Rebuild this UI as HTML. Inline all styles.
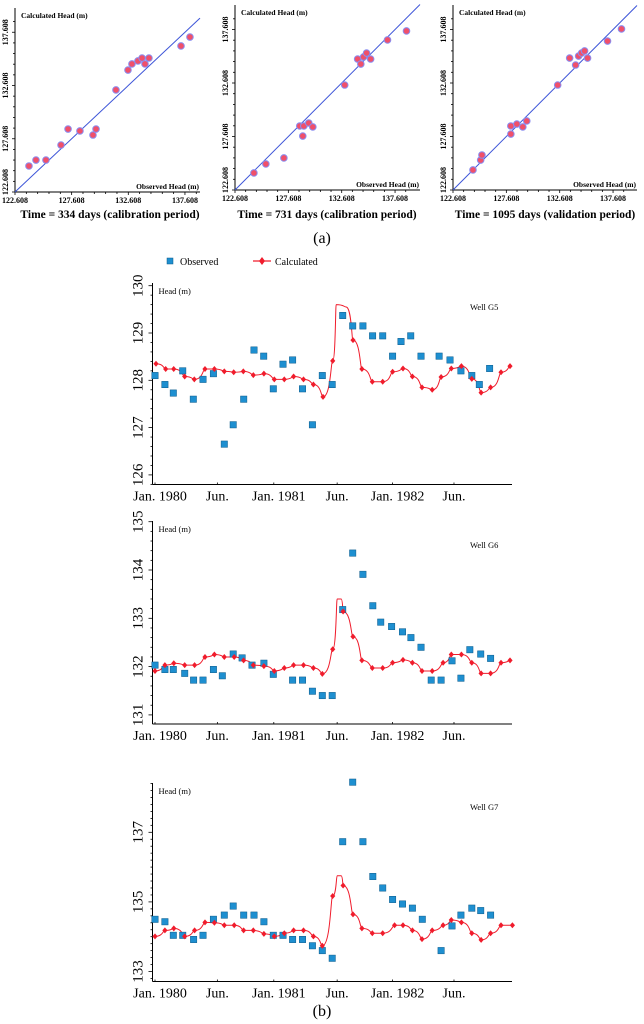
<!DOCTYPE html>
<html><head><meta charset="utf-8"><style>
html,body{margin:0;padding:0;background:#fff;}
svg{display:block;font-family:"Liberation Serif",serif;}
</style></head><body>
<svg id="fig" width="644" height="1024" viewBox="0 0 644 1024" xmlns="http://www.w3.org/2000/svg"></svg>
<script>
// ---------- Scatter data (panel a) ----------
const obs334 = [123.84,124.46,125.34,126.67,127.29,128.34,129.49,129.76,131.52,132.58,132.93,133.46,133.82,134.08,134.43,137.26,138.05];
const calc334 = [125.05,125.61,125.61,127.02,128.52,128.34,127.96,128.52,132.19,134.06,134.63,134.91,135.19,134.63,135.19,136.32,137.16];
const obs731 = [124.38,125.5,127.19,128.68,128.96,129.06,129.52,129.9,132.89,134.1,134.4,134.66,134.94,135.32,136.9,138.68];
const calc731 = [124.2,125.04,125.6,128.59,127.65,128.59,128.87,128.5,132.42,134.85,134.38,135.04,135.41,134.85,136.63,137.47];
const obs1095 = [124.48,125.2,125.32,128.03,128.03,128.59,129.15,129.52,132.42,133.54,134.1,134.38,134.66,134.94,135.22,137.09,138.4];
const calc1095 = [124.48,125.41,125.88,127.84,128.59,128.77,128.5,129.06,132.42,134.94,134.29,135.13,135.41,135.6,134.94,136.53,137.66];
const scatterTicks = ["122.608","127.608","132.608","137.608"];

// ---------- Time series data (panel b), x in months from Jan 1980 ----------
const timeTickMonths = [0,6.3,12,18.4,24,30.2];
const timeTickLabels = ["Jan. 1980","Jun.","Jan. 1981","Jun.","Jan. 1982","Jun."];

const g5ObsM = [0,1,1.85,2.8,3.87,4.85,5.9,7,7.9,8.96,10,10.98,11.95,12.93,13.9,14.9,15.9,16.9,17.9,18.96,19.97,21,21.98,23,24,24.85,25.83,26.87,28.7,29.8,30.9,32,32.76,33.8];
const g5ObsH = [128.1,127.91,127.73,128.2,127.6,128.02,128.14,126.65,127.06,127.6,128.64,128.51,127.82,128.34,128.43,127.82,127.06,128.1,127.91,129.37,129.15,129.15,128.94,128.94,128.51,128.82,128.94,128.51,128.51,128.43,128.2,128.1,127.91,128.25];
const g5CalcM = [0.1,1.08,1.89,3,3.97,5.05,6,7,7.95,8.92,9.93,11,12.05,13.06,14,15,16,16.97,17.95,20,20.9,21.95,23,24,25.05,26,26.97,28,28.9,29.93,30.95,32,32.94,33.9,34.95,35.86];
const g5CalcH = [128.35,128.24,128.24,128.08,128.02,128.24,128.24,128.19,128.17,128.19,128.11,128.14,128.02,128.02,128.08,128.02,127.91,127.65,128.41,128.85,128.24,127.97,127.97,128.18,128.25,128.08,127.85,127.8,128.07,128.25,128.3,128.03,127.74,127.85,128.17,128.3];
const g5PeakM = [18.3,19.3];
const g5PeakH = [129.6,129.55];

const g6ObsM = [0,1,1.85,3,3.9,4.85,5.9,6.8,7.9,8.8,9.8,11,11.95,13.9,14.9,15.9,16.9,17.9,18.96,19.97,21,22,22.8,23.9,25,25.85,26.87,27.9,28.9,30,30.9,31.8,32.9,33.9];
const g6ObsH = [132.03,131.94,131.94,131.86,131.72,131.72,131.94,131.81,132.26,132.18,132.03,132.07,131.84,131.72,131.72,131.49,131.4,131.4,133.18,134.35,133.91,133.26,132.92,132.83,132.72,132.6,132.4,131.72,131.72,132.12,131.76,132.35,132.26,132.17];
const g6CalcM = [0,1,1.9,3,4,5.05,6,7,8,8.95,9.93,11,12.05,13.06,14,15,16,16.9,17.95,19,20,20.9,21.95,23,24,25.05,26,26.97,28,29.1,29.93,30.95,32,32.94,33.9,34.95,35.86];
const g6CalcH = [131.91,132.03,132.07,132.03,132.03,132.2,132.25,132.2,132.2,132.13,132.03,132.01,131.91,131.97,132.03,132.03,131.97,131.85,132.36,133.14,132.62,132.13,131.97,131.97,132.08,132.14,132.08,131.91,131.91,132.08,132.25,132.25,132.08,131.86,131.86,132.08,132.13];
const g6PeakM = [18.4,18.8];
const g6PeakH = [133.4,133.4];

const g7ObsM = [0,1,1.85,2.8,3.9,4.85,5.9,7,7.9,8.96,10,11,11.95,12.93,13.9,14.9,15.9,16.9,17.9,18.96,19.97,21,22,23,24,25,26,27,28.9,30,30.9,32,32.9,33.9];
const g7ObsH = [134.5,134.43,134.04,134.04,133.92,134.04,134.5,134.62,134.88,134.62,134.62,134.43,134.04,134.04,133.92,133.92,133.74,133.6,133.38,136.73,138.44,136.73,135.73,135.4,135.07,134.94,134.82,134.5,133.6,134.31,134.62,134.82,134.75,134.62];
const g7CalcM = [0,1,1.9,3,4,5.05,6,7,8,8.95,9.93,11,12.05,13.06,14,15,16,16.9,17.95,19,20,20.9,21.95,23,24.2,25.05,26,26.97,28,29.1,29.93,30.95,32,32.94,33.9,34.95,36.1];
const g7CalcH = [134.01,134.18,134.24,134.01,134.18,134.41,134.4,134.33,134.33,134.18,134.18,134.08,134.01,134.1,134.18,134.18,134.01,133.74,135.17,135.47,134.64,134.24,134.1,134.1,134.33,134.33,134.18,133.93,134.18,134.33,134.48,134.41,134.1,133.91,134.1,134.33,134.33];
const g7PeakM = [18.4,18.8];
const g7PeakH = [135.75,135.75];

const NS = "http://www.w3.org/2000/svg";
const svg = document.getElementById("fig");
function mk(tag, attrs, parent){
  const e = document.createElementNS(NS, tag);
  for (const k in attrs) e.setAttribute(k, attrs[k]);
  (parent||svg).appendChild(e);
  return e;
}
function txt(s, attrs, parent){ const e = mk("text", attrs, parent); e.textContent = s; return e; }

// ---------- Scatter plots ----------
function scatter(name, left, bottom, right, top, sx, sy, obs, calc, caption, capX){
  const g = mk("g", {});
  
  
  const base = 122.608;
  const X = v => left + (v - base) * sx;
  const Y = v => bottom - (v - base) * sy;
  mk("line",{x1:left,y1:top,x2:left,y2:bottom,stroke:"#000","stroke-width":1},g);
  mk("line",{x1:left,y1:bottom,x2:right,y2:bottom,stroke:"#000","stroke-width":1},g);
  for (let v = 0; v <= 16; v++) {
    const big = v % 5 === 0;
    if (left + v*sx <= right) mk("line",{x1:X(base+v),y1:bottom,x2:X(base+v),y2:bottom+(big?3:2),stroke:"#000","stroke-width":0.8},g);
    if (bottom - v*sy >= top) mk("line",{x1:left,y1:Y(base+v),x2:left-(big?3:2),y2:Y(base+v),stroke:"#000","stroke-width":0.8},g);
  }
  scatterTicks.forEach((t,i)=>{
    const v = parseFloat(t);
    const xl = txt(t,{x:X(v),y:bottom+11,"font-size":8,"font-weight":"bold","text-anchor":"middle"},g);
    
    
    const yy = i === 0 ? Y(v) - 10 : Y(v);
    const yl = txt(t,{x:0,y:0,"font-size":8,"font-weight":"bold","text-anchor":"middle",transform:`translate(${left-7},${yy}) rotate(-90)`},g);
    
    
  });
  const diag = mk("line",{x1:X(base),y1:Y(base),x2:right,y2:bottom-(right-left)*sy/sx,stroke:"#3d55d8","stroke-width":1},g);
  
  
  const yt = txt("Calculated Head (m)",{x:left+6,y:top+10,"font-size":7.5,"font-weight":"bold"},g);
  
  
  const xt = txt("Observed Head (m)",{x:right-1,y:bottom-3,"font-size":7.5,"font-weight":"bold","text-anchor":"end"},g);
  
  
  obs.forEach((o,i)=>{
    const c = mk("circle",{cx:X(o),cy:Y(calc[i]),r:3.3,fill:"#f0506a",stroke:"#8a8ef0","stroke-width":1},g);
    
    
  });
  const cap = txt(caption,{x:capX,y:218,"font-size":11.5,"font-weight":"bold","text-anchor":"middle"},g);
  
  
}
scatter("scatter-334-days",15,192,200,8,11.33,10.65,obs334,calc334,"Time = 334 days (calibration period)",110);
scatter("scatter-731-days",235,190,420,5,10.67,10.7,obs731,calc731,"Time = 731 days (calibration period)",327);
scatter("scatter-1095-days",453,190,637,5,10.67,10.7,obs1095,calc1095,"Time = 1095 days (validation period)",545);
const la = txt("(a)",{x:322,y:243,"font-size":16,"text-anchor":"middle"});



// ---------- Legend ----------
const leg = mk("g",{});


const ls = mk("rect",{x:167,y:258,width:6,height:6,fill:"#1e8fd0",stroke:"#0b5a8a","stroke-width":0.5},leg);


const lt1 = txt("Observed",{x:180,y:265,"font-size":10},leg);


mk("line",{x1:253,y1:261,x2:271,y2:261,stroke:"#f01c2c","stroke-width":1.2},leg);
const ld = mk("path",{d:"M262,257 L265,261 L262,265 L259,261 Z",fill:"#f01c2c"},leg);


const lt2 = txt("Calculated",{x:275,y:265,"font-size":10},leg);



// ---------- Time series ----------
function series(name, top, bottom, refVal, refY, ppu, yTicks, minor, yMin, obsM, obsH, calM, calH, pkM, pkH, well){
  const g = mk("g",{});
  
  
  const left = 152.5, right = 512;
  const X = m => 155 + m * 9.9;
  const Y = h => refY - (h - refVal) * ppu;
  mk("line",{x1:left,y1:top,x2:left,y2:bottom,stroke:"#000","stroke-width":1},g);
  mk("line",{x1:left,y1:bottom,x2:right,y2:bottom,stroke:"#000","stroke-width":1},g);
  for (let v = yMin; Y(v) >= top - 0.5; v += minor) {
    const yy = Y(v);
    if (yy > bottom) continue;
    const major = Math.abs(v - Math.round(v)) < 1e-6 && yTicks.includes(Math.round(v));
    mk("line",{x1:left,y1:yy,x2:left-(major?4:2),y2:yy,stroke:"#000","stroke-width":0.8},g);
  }
  yTicks.forEach(v=>{
    const t = txt(String(v),{x:0,y:0,"font-size":15,"text-anchor":"middle",transform:`translate(${left-10},${Y(v)}) rotate(-90)`},g);
    
    
  });
  timeTickMonths.forEach((m,i)=>{
    mk("line",{x1:X(m),y1:bottom,x2:X(m),y2:bottom-2,stroke:"#000","stroke-width":0.8},g);
    const t = txt(timeTickLabels[i],{x:X(m)+(i%2===0?5:0),y:bottom+16,"font-size":14,"text-anchor":"middle"},g);
    
    
  });
  const ht = txt("Head (m)",{x:left+6,y:top+11,"font-size":8.5},g);
  
  
  const wt = txt(well,{x:470,y:top+27,"font-size":8.5},g);
  
  
  const pts = calM.map((m,i)=>[m,calH[i]]).concat(pkM.map((m,i)=>[m,pkH[i]])).sort((a,b)=>a[0]-b[0]);
  let d = `M${X(pts[0][0])},${Y(pts[0][1])}`;
  for (let i = 1; i < pts.length; i++) {
    const x0 = X(pts[i-1][0]), y0 = Y(pts[i-1][1]), x1 = X(pts[i][0]), y1 = Y(pts[i][1]);
    const dx = x1 - x0;
    d += ` C${x0+dx*0.8},${y0} ${x0+dx*0.8},${y1} ${x1},${y1}`;
  }
  const line = mk("path",{d:d,fill:"none",stroke:"#f01c2c","stroke-width":1},g);
  
  
  obsM.forEach((m,i)=>{
    const r = mk("rect",{x:X(m)-3.2,y:Y(obsH[i])-3.2,width:6.4,height:6.4,fill:"#1e8fd0",stroke:"#0b5a8a","stroke-width":0.5},g);
    
    
  });
  calM.forEach((m,i)=>{
    const x = X(m), y = Y(calH[i]);
    const p = mk("path",{d:`M${x},${y-3} L${x+2.6},${y} L${x},${y+3} L${x-2.6},${y} Z`,fill:"#f01c2c"},g);
    
    
  });
}
series("well-g5-chart",283,484.5,130,285.7,47.3,[126,127,128,129,130],0.2,125.6,g5ObsM,g5ObsH,g5CalcM,g5CalcH,g5PeakM,g5PeakH,"Well G5");
series("well-g6-chart",521,724,135,521.7,48.3,[131,132,133,134,135],0.2,130.8,g6ObsM,g6ObsH,g6CalcM,g6CalcH,g6PeakM,g6PeakH,"Well G6");
series("well-g7-chart",783,981.5,137,832.3,34.8,[133,135,137],0.2,132.6,g7ObsM,g7ObsH,g7CalcM,g7CalcH,g7PeakM,g7PeakH,"Well G7");
const lb = txt("(b)",{x:322,y:1016,"font-size":16,"text-anchor":"middle"});


</script>
</body></html>
